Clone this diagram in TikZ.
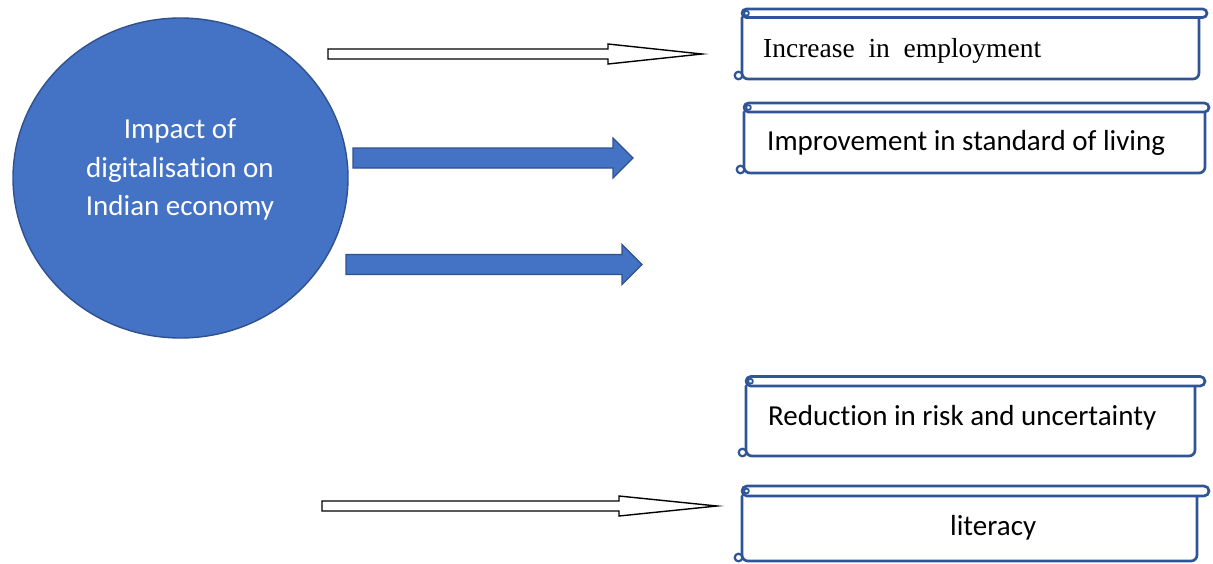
\documentclass[tikz,border=0pt]{standalone}
\usepackage{fontspec}
\usetikzlibrary{shapes.geometric}
\setmainfont{Carlito}[Ligatures={NoCommon}]
\newfontfamily\timesfont{Liberation Serif}[Ligatures={NoCommon}]
\definecolor{fillblue}{HTML}{4472C4}
\definecolor{edgeblue}{HTML}{2F528F}
\definecolor{scrollblue}{HTML}{2F5597}
\tikzset{
  outlinearrow/.style={draw=black, fill=white, line width=1.4pt, line join=miter},
  bluearrow/.style={draw=edgeblue, fill=fillblue, line width=1.2pt, line join=miter},
  scrollline/.style={draw=scrollblue, line width=2.7pt, line join=round, line cap=round},
  circtext/.style={text=white, inner sep=0pt, anchor=base, font=\fontsize{29}{39}\selectfont},
  scrolltext/.style={text=black, inner sep=0pt, anchor=base west, font=\fontsize{29}{39}\selectfont},
}
% #1 L, #2 bar right, #3 body right, #4 bar top, #5 bar bottom, #6 bottom
\newcommand\myscroll[6]{%
  \draw[scrollline, rounded corners=6pt] (#1,#5) -- (#1,#6) -- (#3,#6) -- (#3,#5);
  \draw[scrollline, fill=white, rounded corners={(#5-#4)/2*1pt}] (#1,#4) rectangle (#2,#5);
  \draw[scrollline, line width=1.8pt] ({#1+4.5},{(#4+#5)/2}) circle (2.4pt);
  \draw[scrollline, line width=2.2pt, fill=white] ({#1-3.5},{#6-3.5}) circle (3.8pt);
}
\begin{document}
\begin{tikzpicture}[x=1pt, y=-1pt]
\useasboundingbox (0,0) rectangle (1213,563);
% circle
\node[ellipse, draw=edgeblue, fill=fillblue, line width=1.4pt, minimum width=335pt, minimum height=320pt, inner sep=0pt] (hub) at (180.5,178) {};
\node[circtext] (hubA) at (180,138) {Impact of};
\node[circtext] (hubB) at (180,177) {digitalisation on};
\node[circtext] (hubC) at (180,215) {Indian economy};
% arrows
\draw[outlinearrow] (328,49) -- (608,49) -- (608,44) -- (702,54) -- (608,64) -- (608,59) -- (328,59) -- cycle;
\draw[bluearrow] (353,148) -- (613,148) -- (613,138) -- (633,158) -- (613,178) -- (613,168) -- (353,168) -- cycle;
\draw[bluearrow] (346,254.5) -- (622,254.5) -- (622,244.5) -- (642,264.5) -- (622,284.5) -- (622,274.5) -- (346,274.5) -- cycle;
\draw[outlinearrow] (322,501) -- (619,501) -- (619,496) -- (717,506) -- (619,516) -- (619,511) -- (322,511) -- cycle;
% scrolls
\myscroll{742}{1207}{1199}{9}{17.5}{79}
\myscroll{744}{1209}{1205}{103}{112}{173}
\myscroll{746}{1205}{1195}{376.5}{386}{456}
\myscroll{742}{1209}{1197}{486}{496}{561}
% texts
\node[scrolltext, font=\timesfont\fontsize{27.5}{33}\selectfont] (t1) at (763,57) {Increase~~in~~employment};
\node[scrolltext] (t2) at (767,150) {Improvement in standard of living};
\node[scrolltext] (t3) at (768,425) {Reduction in risk and uncertainty};
\node[scrolltext] (t4) at (950,535) {literacy};
\end{tikzpicture}
\end{document}
